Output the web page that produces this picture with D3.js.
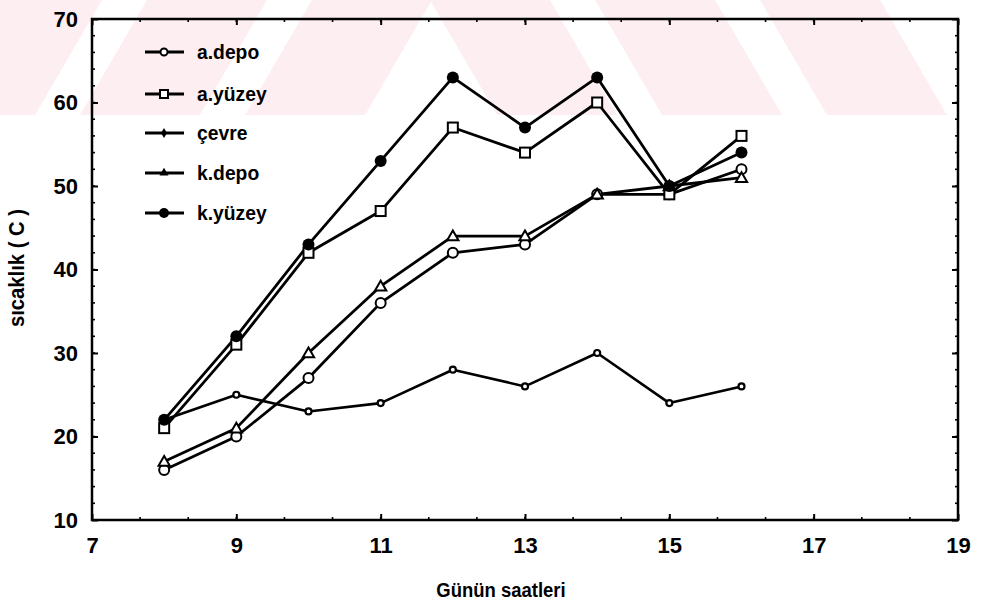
<!DOCTYPE html>
<html>
<head>
<meta charset="utf-8">
<script src="https://cdn.jsdelivr.net/npm/d3@7"></script>
<style>
  html, body { margin: 0; padding: 0; background: #fff; }
  svg { display: block; }
  text { font-family: "Liberation Sans", Arial, sans-serif; fill: #000; }
</style>
</head>
<body>
<script>
// ---- data ----
const hours = [8, 9, 10, 11, 12, 13, 14, 15, 16];
const aDepo   = [16, 20, 27, 36, 42, 43, 49, 49, 52];
const aYuzey  = [21, 31, 42, 47, 57, 54, 60, 49, 56];
const cevre   = [22, 25, 23, 24, 28, 26, 30, 24, 26];
const kDepo   = [17, 21, 30, 38, 44, 44, 49, 50, 51];
const kYuzey  = [22, 32, 43, 53, 63, 57, 63, 50, 54];
const seriesNames = ["a.depo", "a.yüzey", "çevre", "k.depo", "k.yüzey"];
const xTicks = [7, 9, 11, 13, 15, 17, 19];
const yTicks = [10, 20, 30, 40, 50, 60, 70];
const xTitle = "Günün saatleri";
const yTitle = "sıcaklık ( C )";

const W = 983, H = 611;
const pL = 92, pR = 958, pT = 19, pB = 520;

const svg = d3.select("body").append("svg").attr("width", W).attr("height", H);

// faint watermark bands
const wm = svg.append("g").attr("fill", "#fdeef1");
const bandW = 120, slantDx = 67, bandH = 115;
[-85, 80, 245].forEach(xb => {
  wm.append("polygon").attr("points",
    [[xb, bandH], [xb + bandW, bandH], [xb + bandW + slantDx, 0], [xb + slantDx, 0]].join(" "));
});
[430, 595, 760].forEach(xt => {
  wm.append("polygon").attr("points",
    [[xt, 0], [xt + bandW, 0], [xt + bandW + slantDx, bandH], [xt + slantDx, bandH]].join(" "));
});

const x = d3.scaleLinear().domain([7, 19]).range([pL, pR]);
const y = d3.scaleLinear().domain([10, 70]).range([pB, pT]);

const xMinor = d3.range(7, 19.001, 2 / 3);
const yMinor = d3.range(10, 70.001, 2);

// minor ticks
const minorG = svg.append("g").attr("stroke", "#000").attr("stroke-width", 1.6);
xMinor.forEach(v => {
  minorG.append("line").attr("x1", x(v)).attr("x2", x(v)).attr("y1", pB).attr("y2", pB - 3);
  minorG.append("line").attr("x1", x(v)).attr("x2", x(v)).attr("y1", pT).attr("y2", pT + 3);
});
yMinor.forEach(v => {
  minorG.append("line").attr("y1", y(v)).attr("y2", y(v)).attr("x1", pL).attr("x2", pL + 3);
  minorG.append("line").attr("y1", y(v)).attr("y2", y(v)).attr("x1", pR).attr("x2", pR - 3);
});

// axes
const xAxis = svg.append("g").attr("transform", `translate(0,${pB})`)
  .call(d3.axisBottom(x).tickValues(xTicks).tickFormat(d3.format("d")).tickSizeInner(-6).tickSizeOuter(0).tickPadding(17));
const yAxis = svg.append("g").attr("transform", `translate(${pL},0)`)
  .call(d3.axisLeft(y).tickValues(yTicks).tickFormat(d3.format("d")).tickSizeInner(-6).tickSizeOuter(0).tickPadding(14));
svg.append("g").attr("transform", `translate(0,${pT})`)
  .call(d3.axisTop(x).tickValues(xTicks).tickFormat("").tickSizeInner(-6).tickSizeOuter(0));
svg.append("g").attr("transform", `translate(${pR},0)`)
  .call(d3.axisRight(y).tickValues(yTicks).tickFormat("").tickSizeInner(-6).tickSizeOuter(0));
svg.selectAll(".domain").remove();
svg.selectAll(".tick line").attr("stroke", "#000").attr("stroke-width", 2);
[xAxis, yAxis].forEach(a => a.selectAll("text")
  .attr("font-size", 22).attr("font-weight", "bold")
  .attr("font-family", '"Liberation Sans", Arial, sans-serif').attr("fill", "#000"));

svg.append("rect").attr("x", pL).attr("y", pT).attr("width", pR - pL).attr("height", pB - pT)
  .attr("fill", "none").attr("stroke", "#000").attr("stroke-width", 2.5);

// titles
svg.append("text").attr("transform", "translate(501,597) scale(0.88,1)").attr("text-anchor", "middle")
  .attr("font-size", 21).attr("font-weight", "bold").text(xTitle);
svg.append("text").attr("transform", "translate(24,268) rotate(-90) scale(0.92,1)").attr("text-anchor", "middle")
  .attr("font-size", 22).attr("font-weight", "bold").text(yTitle);

// series
const allSeries = [aDepo, aYuzey, cevre, kDepo, kYuzey];
const markerTypes = ["openCircle", "openSquare", "smallCircle", "openTriangle", "filledCircle"];
const line = d3.line().x((d, i) => x(hours[i])).y(d => y(d));

function drawMarker(g, type, cx, cy, legend) {
  if (type === "openCircle") {
    g.append("circle").attr("cx", cx).attr("cy", cy).attr("r", legend ? 3.5 : 5)
      .attr("fill", "#fff").attr("stroke", "#000").attr("stroke-width", 2);
  } else if (type === "openSquare") {
    const s = legend ? 8 : 10;
    g.append("rect").attr("x", cx - s / 2).attr("y", cy - s / 2).attr("width", s).attr("height", s)
      .attr("fill", "#fff").attr("stroke", "#000").attr("stroke-width", 2);
  } else if (type === "smallCircle") {
    if (legend) {
      g.append("path").attr("d", d3.symbol(d3.symbolDiamond, 30)()).attr("transform", `translate(${cx},${cy})`)
        .attr("fill", "#000");
    } else {
      g.append("circle").attr("cx", cx).attr("cy", cy).attr("r", 3)
        .attr("fill", "#fff").attr("stroke", "#000").attr("stroke-width", 2.2);
    }
  } else if (type === "openTriangle") {
    if (legend) {
      g.append("path").attr("d", d3.symbol(d3.symbolTriangle, 35)()).attr("transform", `translate(${cx},${cy})`)
        .attr("fill", "#000");
    } else {
      g.append("path").attr("d", d3.symbol(d3.symbolTriangle, 55)()).attr("transform", `translate(${cx},${cy + 1})`)
        .attr("fill", "#fff").attr("stroke", "#000").attr("stroke-width", 2);
    }
  } else if (type === "filledCircle") {
    g.append("circle").attr("cx", cx).attr("cy", cy).attr("r", legend ? 5 : 6).attr("fill", "#000");
  }
}

const plotG = svg.append("g");
allSeries.forEach((vals, si) => {
  plotG.append("path").datum(vals).attr("d", line).attr("fill", "none")
    .attr("stroke", "#000").attr("stroke-width", si === 2 ? 2.6 : 2.8).attr("stroke-linejoin", "round");
});
allSeries.forEach((vals, si) => {
  vals.forEach((v, i) => drawMarker(plotG, markerTypes[si], x(hours[i]), y(v), false));
});

// legend
const legendYs = [52, 94, 133, 173, 213];
const legG = svg.append("g");
seriesNames.forEach((name, i) => {
  const ly = legendYs[i];
  legG.append("line").attr("x1", 145).attr("x2", 184).attr("y1", ly).attr("y2", ly)
    .attr("stroke", "#000").attr("stroke-width", 2.8);
  drawMarker(legG, markerTypes[i], 164, ly, true);
  legG.append("text").attr("x", 197).attr("y", ly + 7).attr("font-size", 21).attr("font-weight", "bold")
    .attr("transform", `translate(197,0) scale(0.92,1) translate(-197,0)`).text(name);
});
</script>
</body>
</html>
